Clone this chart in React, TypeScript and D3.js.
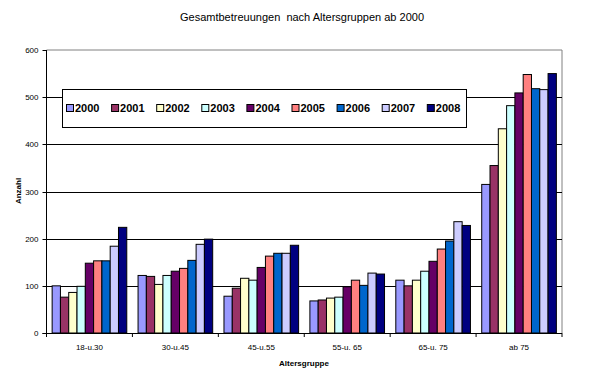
import React from "react";
import * as d3 from "d3";

const categories = ["18-u.30", "30-u.45", "45-u.55", "55-u. 65", "65-u. 75", "ab 75"];
const years = ["2000", "2001", "2002", "2003", "2004", "2005", "2006", "2007", "2008"];
const colors = ["#9999FF", "#993366", "#FFFFCC", "#CCFFFF", "#660066", "#FF8080", "#0066CC", "#CCCCFF", "#000080"];
const v2000 = [100, 122, 78, 68, 112, 315];
const v2001 = [76, 120, 95, 70, 100, 355];
const v2002 = [86, 103, 116, 74, 112, 433];
const v2003 = [99, 122, 112, 76, 131, 482];
const v2004 = [148, 131, 139, 98, 152, 509];
const v2005 = [153, 137, 163, 112, 178, 548];
const v2006 = [153, 154, 169, 101, 195, 518];
const v2007 = [184, 188, 169, 127, 236, 516];
const v2008 = [224, 199, 186, 125, 228, 550];
const series = [v2000, v2001, v2002, v2003, v2004, v2005, v2006, v2007, v2008];
const yTicks = [0, 100, 200, 300, 400, 500, 600];

const FONT = "'Liberation Sans', Arial, sans-serif";

export default function App() {
  const W = 605, H = 377;
  const left = 46.5, right = 562, top = 50, bottom = 333;
  const x = d3.scaleBand<string>().domain(categories).range([left, right]).paddingInner(0).paddingOuter(0);
  const bw = x.bandwidth();
  const barW = bw / (9 + 1.36);
  const xs = d3.scaleBand<string>().domain(years).range([0, barW * 9]).padding(0);
  const y = d3.scaleLinear().domain([0, 600]).range([bottom, top]);

  const lg = { x: 62.5, y: 89.5, w: 404, h: 38 };

  return (
    <svg width={W} height={H} style={{ position: "absolute", left: 0, top: 0, background: "#fff" }} fontFamily={FONT}>
      <rect x={0} y={0} width={W} height={H} fill="#fff" />
      <text x={302} y={21} textAnchor="middle" fontSize={11} fill="#000" style={{ whiteSpace: "pre" }}>Gesamtbetreuungen  nach Altersgruppen ab 2000</text>
      {/* plot border */}
      <line x1={left} x2={right} y1={top} y2={top} stroke="#808080" strokeWidth={1} />
      <line x1={right} x2={right} y1={top} y2={bottom} stroke="#808080" strokeWidth={1} />
      {/* gridlines */}
      {yTicks.filter(t => t > 0 && t < 600).map(t => (
        <line key={t} x1={left} x2={right} y1={Math.round(y(t)) + 0.5} y2={Math.round(y(t)) + 0.5} stroke="#000" strokeWidth={1} />
      ))}
      {/* bars */}
      {categories.map((c, ci) => (
        <g key={c}>
          {series.map((s, si) => {
            const bx = (x(c) as number) + (bw - barW * 9) / 2 + (xs(years[si]) as number);
            return (
              <rect key={si} x={bx} y={y(s[ci])} width={xs.bandwidth()} height={bottom - y(s[ci])}
                fill={colors[si]} stroke="#000" strokeWidth={1} />
            );
          })}
        </g>
      ))}
      {/* axes */}
      <line x1={left} x2={left} y1={top} y2={bottom} stroke="#000" strokeWidth={1} />
      <line x1={left - 4} x2={right} y1={bottom + 0.5} y2={bottom + 0.5} stroke="#000" strokeWidth={1} />
      {yTicks.map(t => (
        <g key={t}>
          <line x1={left - 4} x2={left} y1={Math.round(y(t)) + 0.5} y2={Math.round(y(t)) + 0.5} stroke="#000" />
          <text x={left - 8} y={y(t) + 3} textAnchor="end" fontSize={8} fill="#000">{t}</text>
        </g>
      ))}
      {categories.map((c, i) => (
        <line key={"t" + i} x1={(x(c) as number)} x2={(x(c) as number)} y1={bottom} y2={bottom + 4} stroke="#000" />
      ))}
      <line x1={right} x2={right} y1={bottom} y2={bottom + 4} stroke="#000" />
      {categories.map(c => (
        <text key={"l" + c} x={(x(c) as number) + bw / 2} y={350} textAnchor="middle" fontSize={8} fill="#000" style={{ whiteSpace: "pre" }}>{c}</text>
      ))}
      <text x={304} y={366} textAnchor="middle" fontSize={8} fontWeight="bold" fill="#000">Altersgruppe</text>
      <text transform="translate(21,191) rotate(-90)" textAnchor="middle" fontSize={8} fontWeight="bold" fill="#000">Anzahl</text>
      {/* legend */}
      <rect x={lg.x} y={lg.y} width={lg.w} height={lg.h} fill="#fff" stroke="#000" strokeWidth={1} />
      {years.map((yr, i) => {
        const ex = 66 + i * 45.1;
        return (
          <g key={yr}>
            <rect x={ex + 0.5} y={104.5} width={7} height={7} fill={colors[i]} stroke="#000" strokeWidth={1} />
            <text x={ex + 9} y={112} fontSize={11} fontWeight="bold" fill="#000">{yr}</text>
          </g>
        );
      })}
    </svg>
  );
}
